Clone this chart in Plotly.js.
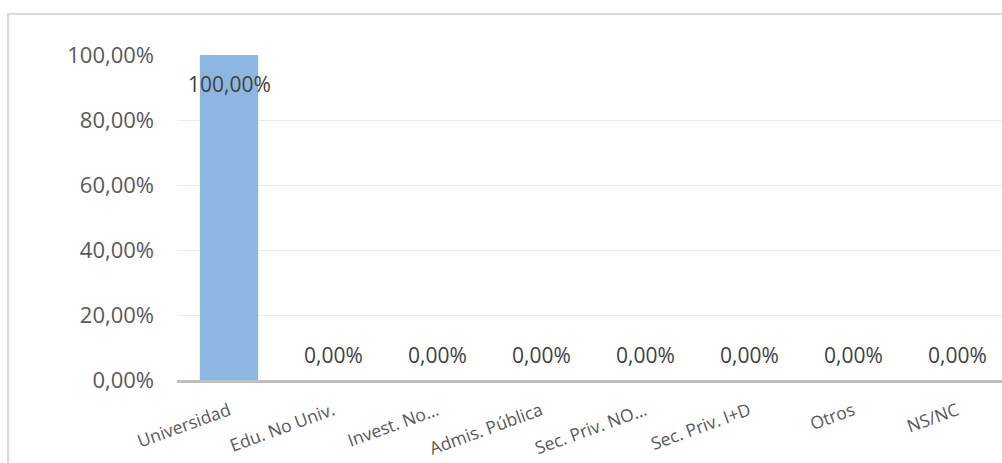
<!DOCTYPE html>
<html>
<head>
<meta charset="utf-8">
<script src="https://cdn.plot.ly/plotly-3.0.1.min.js"></script>
<style>
html,body{margin:0;padding:0;overflow:hidden;background:#fff;}
#chart{width:1010px;height:463px;}
</style>
</head>
<body>
<div id="chart"></div>
<script>
const categories = ["Universidad","Edu. No Univ.","Invest. No…","Admis. Pública","Sec. Priv. NO…","Sec. Priv. I+D","Otros","NS/NC"];
const values = [1.0, 0, 0, 0, 0, 0, 0, 0];
const yTickVals = [0, 0.2, 0.4, 0.6, 0.8, 1.0];
const yTickText = ["0,00%","20,00%","40,00%","60,00%","80,00%","100,00%"];

function fmt(v){ return (v*100).toFixed(2).replace('.', ',') + '%'; }

const trace = {
  type: 'bar',
  x: categories,
  y: values,
  marker: {color: '#8DB7E1'},
  cliponaxis: false,
  hoverinfo: 'none'
};

const labels = categories.map((c, i) => ({
  x: c, y: values[i], xref: 'x', yref: 'y',
  text: fmt(values[i]), showarrow: false,
  xanchor: 'center', yanchor: 'middle',
  yshift: values[i] >= 1 ? -29 : 25,
  font: {family: 'Open Sans, sans-serif', size: 21, color: '#404040'}
}));

const layout = {
  width: 1010, height: 463,
  margin: {l: 177, r: 1, t: 55, b: 83},
  paper_bgcolor: '#fff', plot_bgcolor: '#fff',
  bargap: 0.44,
  showlegend: false,
  font: {family: 'Open Sans, sans-serif', color: '#595959'},
  xaxis: {
    type: 'category',
    tickangle: -20,
    tickfont: {size: 17.5, color: '#595959'},
    showgrid: false,
    showline: true, linecolor: '#BFBFBF', linewidth: 3,
    ticks: '', ticklabelstandoff: 11,
    fixedrange: true
  },
  yaxis: {
    range: [0, 1],
    tickvals: yTickVals,
    ticktext: yTickText,
    tickfont: {size: 22, color: '#595959'},
    showgrid: true, gridcolor: '#EBEBEB', gridwidth: 1,
    zeroline: false, showline: false,
    ticks: '', ticklabelstandoff: 22,
    fixedrange: true
  },
  annotations: labels,
  shapes: [{
    type: 'rect', xref: 'paper', yref: 'paper',
    x0: -0.203, x1: 1.2, y0: -0.6, y1: 1.126,
    line: {color: '#D9D9D9', width: 2}, fillcolor: 'rgba(0,0,0,0)', layer: 'below'
  }]
};

Plotly.newPlot('chart', [trace], layout, {displayModeBar: false, staticPlot: true});
</script>
</body>
</html>
